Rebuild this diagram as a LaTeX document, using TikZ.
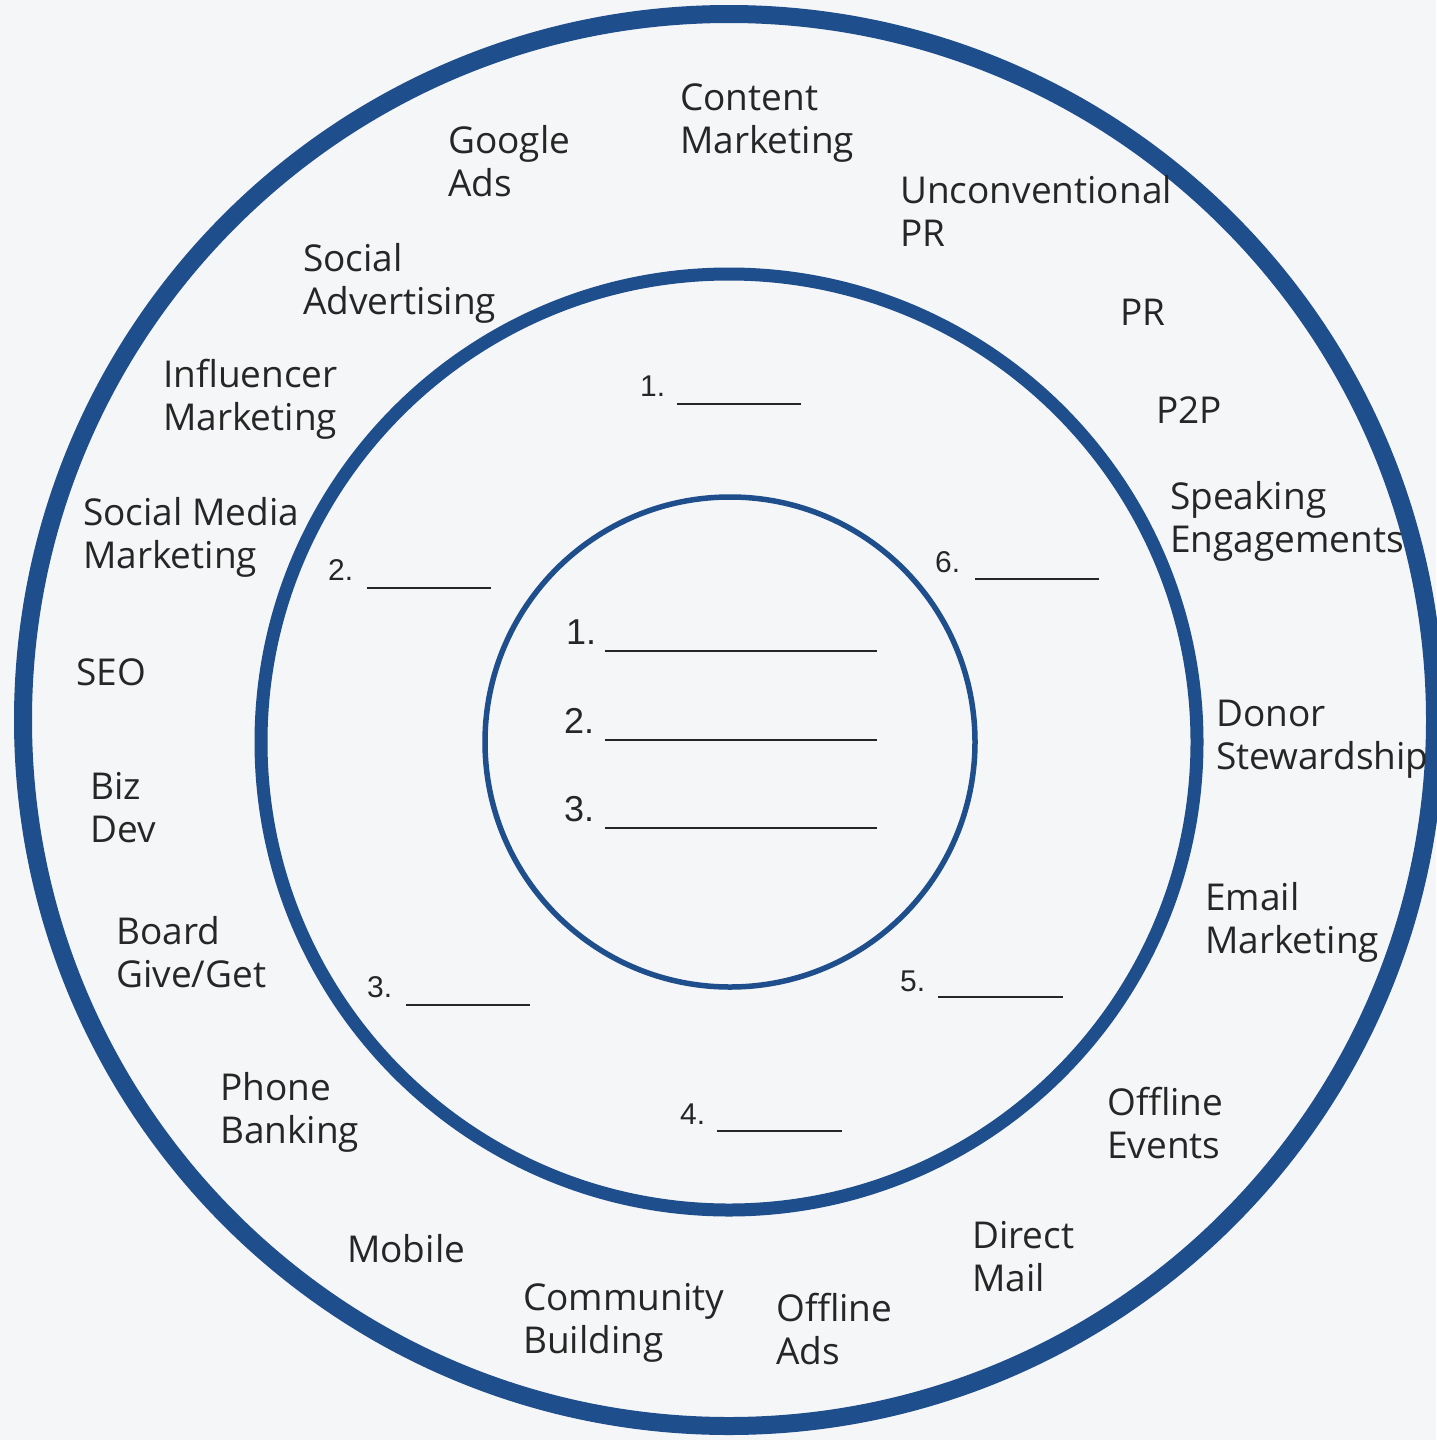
\documentclass[tikz,border=0pt]{standalone}
\usepackage{fontspec}
\setmainfont{Open Sans}
\newfontfamily\numfont{Liberation Sans}
\definecolor{bg}{HTML}{F5F6F7}
\definecolor{ringblue}{HTML}{1F4E8C}
\definecolor{txt}{HTML}{262626}
\newcommand\twoline[2]{\begin{tabular}[t]{@{}l@{}}#1\\#2\end{tabular}}
\tikzset{
  ring/.style={draw=ringblue},
  lbl/.style={anchor=base west, inner sep=0pt, text=txt,
    font=\fontsize{37}{43.5}\selectfont},
  ringnum/.style={anchor=base west, inner sep=0pt, text=txt,
    font=\numfont\fontsize{30}{36}\selectfont},
  corenum/.style={anchor=base west, inner sep=0pt, text=txt,
    font=\numfont\fontsize{36}{42}\selectfont},
  blankline/.style={draw=txt, line width=1.8},
  coreline/.style={draw=txt, line width=2.2},
}
\begin{document}
\begin{tikzpicture}[x=1pt,y=-1pt]
  % canvas
  \fill[bg] (0,0) rectangle (1436,1440);
  \useasboundingbox (0,0) rectangle (1436,1440);

  % the three rings
  \draw[ring, line width=18] (729,720) circle[radius=706];
  \draw[ring, line width=13] (729,742) circle[radius=468];
  \draw[ring, line width=5.5] (730,742) circle[radius=245];

  % outer ring: channels
  \node[lbl] (google)   at (448,153) {\twoline{Google}{Ads}};
  \node[lbl] (content)  at (680,110) {\twoline{Content}{Marketing}};
  \node[lbl] (unconv)   at (900,203) {\twoline{Unconventional}{PR}};
  \node[lbl] (pr)       at (1120,325) {PR};
  \node[lbl] (p2p)      at (1156,423) {P2P};
  \node[lbl] (speaking) at (1170,509) {\twoline{Speaking}{Engagements}};
  \node[lbl] (donor)    at (1216,726) {\twoline{Donor}{Stewardship}};
  \node[lbl] (email)    at (1205,910) {\twoline{Email}{Marketing}};
  \node[lbl] (events)   at (1107,1115) {\twoline{Offline}{Events}};
  \node[lbl] (mail)     at (972,1248) {\twoline{Direct}{Mail}};
  \node[lbl] (offads)   at (776,1321) {\twoline{Offline}{Ads}};
  \node[lbl] (commun)   at (523,1310) {\twoline{Community}{Building}};
  \node[lbl] (mobile)   at (347,1262) {Mobile};
  \node[lbl] (phone)    at (220,1100) {\twoline{Phone}{Banking}};
  \node[lbl] (board)    at (116,944) {\twoline{Board}{Give/Get}};
  \node[lbl] (biz)      at (90,799) {\twoline{Biz}{Dev}};
  \node[lbl] (seo)      at (76,685) {SEO};
  \node[lbl] (smm)      at (83,525) {\twoline{Social Media}{Marketing}};
  \node[lbl] (infl)     at (163,387) {\twoline{Influencer}{Marketing}};
  \node[lbl] (socadv)   at (303,271) {\twoline{Social}{Advertising}};

  % middle ring: six blanks
  \node[ringnum] (m1) at (640,396) {1.};
  \draw[blankline] (677,404) -- (801,404);
  \node[ringnum] (m2) at (328,580) {2.};
  \draw[blankline] (367,588) -- (491,588);
  \node[ringnum] (m3) at (367,997) {3.};
  \draw[blankline] (406,1005) -- (530,1005);
  \node[ringnum] (m4) at (680,1124) {4.};
  \draw[blankline] (717,1131) -- (842,1131);
  \node[ringnum] (m5) at (900,991) {5.};
  \draw[blankline] (938,997) -- (1063,997);
  \node[ringnum] (m6) at (935,572) {6.};
  \draw[blankline] (975,579) -- (1099,579);

  % core: three blanks
  \node[corenum] (c1) at (566,644) {1.};
  \draw[coreline] (605,651) -- (877,651);
  \node[corenum] (c2) at (564,733) {2.};
  \draw[coreline] (605,740) -- (877,740);
  \node[corenum] (c3) at (564,821) {3.};
  \draw[coreline] (605,828) -- (877,828);
\end{tikzpicture}
\end{document}
